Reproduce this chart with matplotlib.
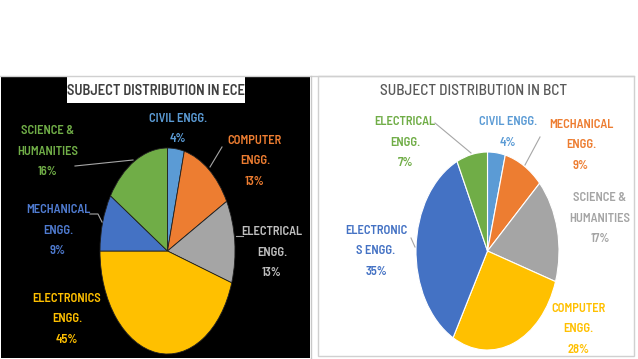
import matplotlib
matplotlib.use('Agg')
import matplotlib.pyplot as plt
from matplotlib.patches import Rectangle
from matplotlib.lines import Line2D

# ---- data ----
ece_names = ['CIVIL ENGG.', 'COMPUTER\nENGG.', 'ELECTRICAL\nENGG.',
             'ELECTRONICS\nENGG.', 'MECHANICAL\nENGG.', 'SCIENCE &\nHUMANITIES']
ece_values = [4, 13, 13, 45, 9, 16]

bct_names = ['CIVIL ENGG.', 'MECHANICAL\nENGG.', 'SCIENCE &\nHUMANITIES',
             'COMPUTER\nENGG.', 'ELECTRONIC\nS ENGG.', 'ELECTRICAL\nENGG.']
bct_values = [4, 9, 17, 28, 35, 7]

# ---- style / layout ----
W, H = 638, 359
FONT = ['Barlow Semi Condensed', 'Archivo Narrow', 'DejaVu Sans']
plt.rcParams['font.family'] = FONT

ece_colors = ['#5B9BD5', '#ED7D31', '#A5A5A5', '#FFC000', '#4472C4', '#70AD47']
ece_text_colors = ['#5B9BD5', '#ED7D31', '#BFBFBF', '#FFC000', '#4F7BD0', '#70AD47']
bct_colors = ['#5B9BD5', '#ED7D31', '#A5A5A5', '#FFC000', '#4472C4', '#70AD47']
bct_text_colors = ['#5B9BD5', '#ED7D31', '#A5A5A5', '#FFC000', '#4472C4', '#70AD47']

# label anchor (x, y of first line) in pixels
ece_label_pos = [(178, 119), (255, 141), (272, 232), (67, 299), (58, 210), (48, 131)]
bct_label_pos = [(508, 122), (581, 125), (600, 198), (578, 309), (376, 231), (405, 122)]
LINE_STEP = 20.5
LABEL_SIZE = 9

ece_leaders = [[(75, 166), (133, 160)], [(222, 147), (210, 167)],
               [(90, 214), (98, 214), (102, 222)], [(236, 236), (243, 236)]]
bct_leaders = [[(435, 123), (471, 153)], [(540, 137), (525, 165)],
               [(411, 238), (415, 247)]]


def fx(x):
    return x / W


def fy(y):
    return 1 - y / H


fig = plt.figure(figsize=(W / 100, H / 100), dpi=100, facecolor='white')

# background panels in pixel coords
bg = fig.add_axes([0, 0, 1, 1], zorder=-1)
bg.set_xlim(0, W)
bg.set_ylim(H, 0)
bg.axis('off')
bg.add_patch(Rectangle((634 - 316, 76), 316, 280, facecolor='white',
                       edgecolor='#D0D0D0', lw=1))
bg.plot([0, 634], [76, 76], color='#D0D0D0', lw=1)
bg.add_patch(Rectangle((1, 77), 309, 281, facecolor='black', edgecolor='none'))
bg.plot([311, 311], [76, 358], color='#C8C8C8', lw=1)
bg.add_patch(Rectangle((67, 77), 178, 26, facecolor='white', edgecolor='none'))


def draw_pie(box, center, radius, values, colors, edge, lw):
    x0, y0, x1, y1 = box
    cx, cy = center
    rx, ry = radius
    ax = fig.add_axes([fx(x0), fy(y1), fx(x1) - fx(x0), fy(y0) - fy(y1)])
    ax.pie(values, colors=colors, startangle=90, counterclock=False,
           wedgeprops=dict(edgecolor=edge, linewidth=lw))
    ax.set_aspect('auto')
    ax.set_xlim((x0 - cx) / rx, (x1 - cx) / rx)
    ax.set_ylim((cy - y1) / ry, (cy - y0) / ry)
    ax.axis('off')
    return ax


draw_pie((2, 77, 310, 357), (167.5, 251), (67.5, 103), ece_values, ece_colors, '#202020', 0.6)
draw_pie((319, 77, 633, 355), (487.5, 251), (71.5, 99), bct_values, bct_colors, 'white', 0.8)


def draw_labels(names, values, pos, colors):
    for name, v, (x, y), c in zip(names, values, pos, colors):
        lines = name.split('\n') + ['{}%'.format(v)]
        for i, line in enumerate(lines):
            fig.text(fx(x), fy(y + i * LINE_STEP), line, color=c, fontsize=LABEL_SIZE,
                     fontweight=600, ha='center', va='center')


def draw_leaders(leaders):
    for pts in leaders:
        xs = [fx(p[0]) for p in pts]
        ys = [fy(p[1]) for p in pts]
        fig.add_artist(Line2D(xs, ys, color='#A6A6A6', lw=0.8, transform=fig.transFigure))


draw_leaders(ece_leaders)
draw_leaders(bct_leaders)
draw_labels(ece_names, ece_values, ece_label_pos, ece_text_colors)
draw_labels(bct_names, bct_values, bct_label_pos, bct_text_colors)

fig.text(fx(156), fy(91), 'SUBJECT DISTRIBUTION IN ECE', color='#404040',
         fontsize=10.5, fontweight=600, ha='center', va='center')
fig.text(fx(474), fy(91), 'SUBJECT DISTRIBUTION IN BCT', color='#595959',
         fontsize=11, fontweight=500, ha='center', va='center')

fig.savefig('out.png', dpi=100, facecolor='white')
